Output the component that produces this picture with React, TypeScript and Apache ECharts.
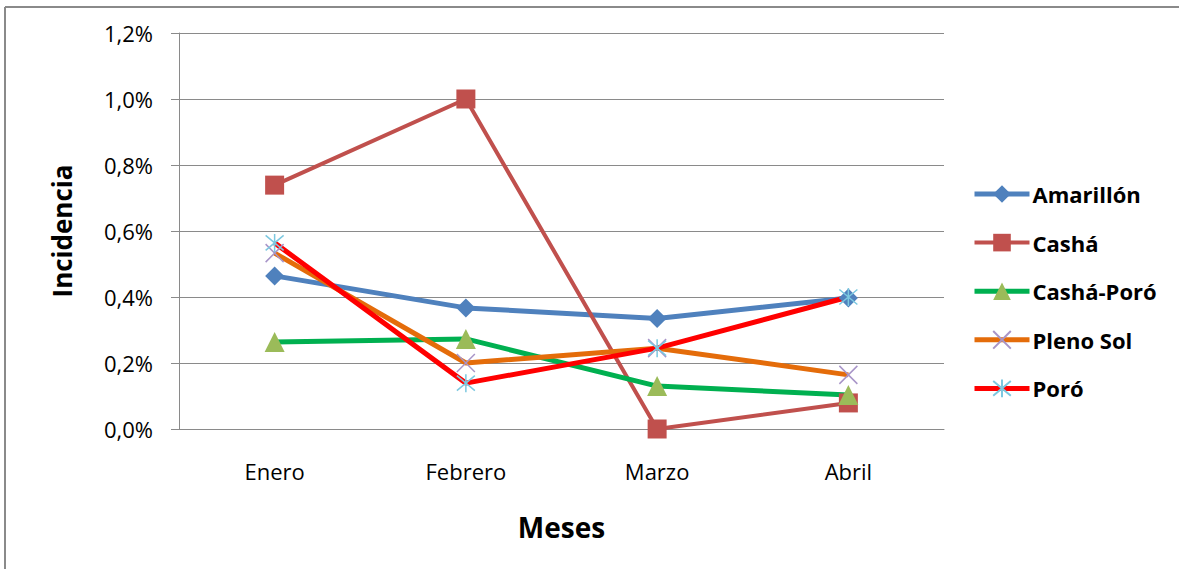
import React, { useEffect, useRef } from "react";
import * as echarts from "echarts";

const months = ["Enero", "Febrero", "Marzo", "Abril"];
const amarillon = [0.464, 0.367, 0.335, 0.397];
const casha = [0.739, 1.0, 0.0, 0.079];
const cashaPoro = [0.264, 0.273, 0.13, 0.103];
const plenoSol = [0.533, 0.2, 0.245, 0.164];
const poro = [0.564, 0.139, 0.245, 0.4];
const yTicks = [0, 0.2, 0.4, 0.6, 0.8, 1.0, 1.2];

const FONT = "'Open Sans', Lato, sans-serif";

const xPath = "path://M0,0L10,10M10,0L0,10";
const starPath = "path://M0,0L10,10M10,0L0,10M5,-1L5,11";

export default function App() {
  const ref = useRef<HTMLDivElement>(null);
  useEffect(() => {
    if (!ref.current) return;
    const chart = echarts.init(ref.current, undefined, { renderer: "svg" });
    const mk = (
      name: string,
      data: number[],
      lineColor: string,
      symbol: string,
      symbolSize: number,
      itemStyle: any,
      width: number
    ) => ({
      name,
      type: "line",
      data,
      symbol,
      symbolSize,
      showAllSymbol: true,
      lineStyle: { color: lineColor, width },
      itemStyle,
      emphasis: { disabled: true },
    });
    chart.setOption({
      animation: false,
      backgroundColor: "#ffffff",
      graphic: [
        { type: "line", shape: { x1: 5, y1: 7, x2: 1179, y2: 7 }, style: { stroke: "#8a8a8a", lineWidth: 2 } },
        { type: "line", shape: { x1: 5, y1: 7, x2: 5, y2: 569 }, style: { stroke: "#8a8a8a", lineWidth: 2 } },
      ],
      grid: { left: 179, right: 235, top: 33, bottom: 140, containLabel: false },
      legend: {
        orient: "vertical",
        left: 967,
        top: 178,
        itemWidth: 55,
        itemHeight: 22,
        itemGap: 26.6,
        lineStyle: { width: "inherit" },
        textStyle: {
          fontFamily: FONT,
          fontSize: 22,
          lineHeight: 22,
          fontWeight: "bold",
          color: "#000",
          padding: [0, 0, 0, -2],
        },
        data: ["Amarillón", "Cashá", "Cashá-Poró", "Pleno Sol", "Poró"],
      },
      xAxis: {
        type: "category",
        data: months,
        boundaryGap: true,
        name: "Meses",
        nameLocation: "middle",
        nameGap: 84,
        nameTextStyle: { fontFamily: FONT, fontSize: 28, fontWeight: "bold", color: "#000" },
        axisLine: { show: true, lineStyle: { color: "#8a8a8a", width: 1 } },
        axisTick: { show: false },
        axisLabel: { fontFamily: FONT, fontSize: 22, color: "#000", margin: 31 },
        splitLine: { show: false },
      },
      yAxis: {
        type: "value",
        min: 0,
        max: 1.2,
        interval: 0.2,
        name: "Incidencia",
        nameLocation: "middle",
        nameRotate: 90,
        nameGap: 104,
        nameTextStyle: { fontFamily: FONT, fontSize: 26, fontWeight: "bold", color: "#000" },
        axisLine: { show: true, lineStyle: { color: "#8a8a8a", width: 1 } },
        axisTick: { show: true, inside: false, length: 8, lineStyle: { color: "#8a8a8a" } },
        axisLabel: {
          fontFamily: FONT,
          fontSize: 22,
          color: "#000",
          margin: 26,
          formatter: (v: number) => {
            const t = yTicks.find((x) => Math.abs(x - v) < 1e-6);
            return (t !== undefined ? t : v).toFixed(1).replace(".", ",") + "%";
          },
        },
        splitLine: { show: true, lineStyle: { color: "#8a8a8a", width: 1 } },
      },
      series: [
        mk("Amarillón", amarillon, "#4F81BD", "diamond", 19, { color: "#4F81BD" }, 5),
        mk("Cashá", casha, "#C0504D", "rect", 19, { color: "#C0504D" }, 4),
        mk("Cashá-Poró", cashaPoro, "#00B050", "triangle", 20, { color: "#9BBB59" }, 5),
        mk("Pleno Sol", plenoSol, "#E46C0A", xPath, 18, { color: "rgba(0,0,0,0)", borderColor: "#A895C8", borderWidth: 1.5 }, 5),
        mk("Poró", poro, "#FF0000", starPath, 18, { color: "rgba(0,0,0,0)", borderColor: "#7CC8E0", borderWidth: 1.5 }, 5),
      ],
    });
    return () => chart.dispose();
  }, []);
  return <div ref={ref} style={{ width: 1179, height: 569, position: "absolute", left: 0, top: 0 }} />;
}
